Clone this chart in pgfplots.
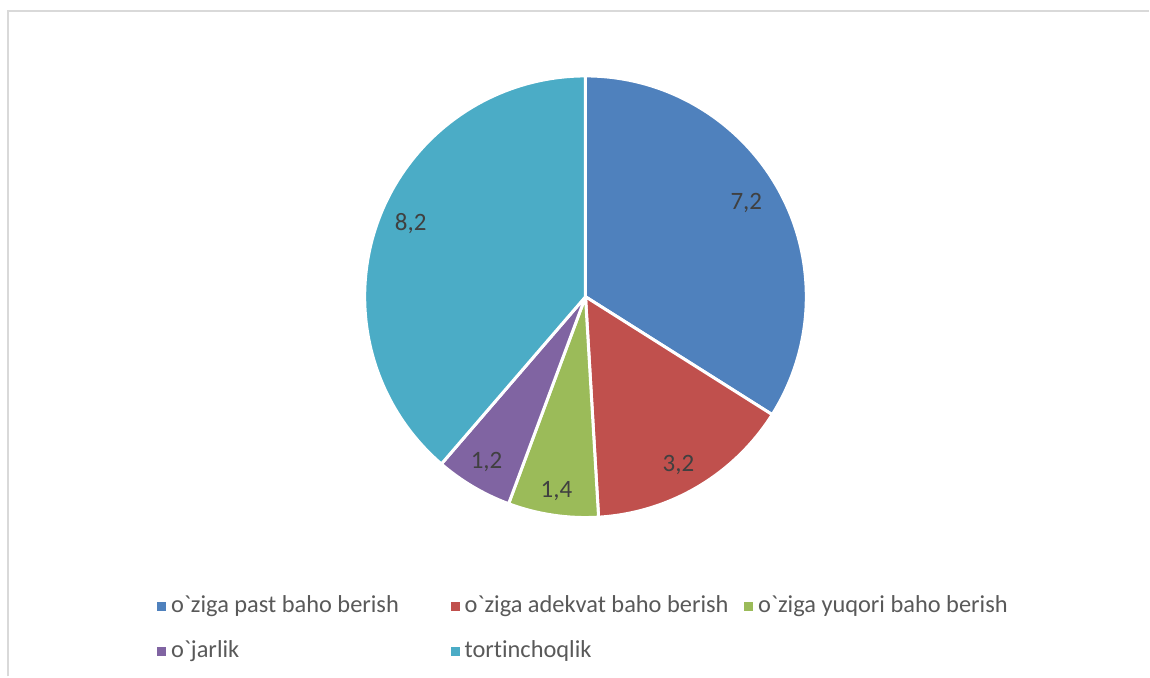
\documentclass[border=0pt]{standalone}
\usepackage{pgfplots}
\pgfplotsset{compat=1.18}
\usepackage{pgfplotstable}
\usepackage{fontspec}
\setmainfont{Carlito}[Ligatures={TeXOff,NoCommon}]

\definecolor{c0}{HTML}{4F81BD}
\definecolor{c1}{HTML}{C0504D}
\definecolor{c2}{HTML}{9BBB59}
\definecolor{c3}{HTML}{8064A2}
\definecolor{c4}{HTML}{4BACC6}
\definecolor{frame}{HTML}{D9D9D9}
\definecolor{lbl}{HTML}{404040}
\definecolor{legtext}{HTML}{595959}

\newcommand\gr{\char96\relax}
\newcommand\legcell[1]{\makebox[140pt][l]{#1}}

% values, and where each data label sits (pixels of the 1150x677 frame)
\pgfplotstableread{
val lx  ly
7.2 747 203
3.2 679 465
1.4 557 491
1.2 487 462
8.2 411 224
}\piedata

\begin{document}
\begin{tikzpicture}
% start/end angle of every slice, clockwise from 12 o'clock
\def\pietotal{0}%
\pgfplotsforeachungrouped \i in {0,...,4}{%
  \pgfplotstablegetelem{\i}{val}\of\piedata
  \pgfmathsetmacro\pietotal{\pietotal+\pgfplotsretval}%
}%
\def\piecur{90}%
\pgfplotsforeachungrouped \i in {0,...,4}{%
  \pgfplotstablegetelem{\i}{val}\of\piedata
  \pgfmathsetmacro\piespan{360*\pgfplotsretval/\pietotal}%
  \expandafter\xdef\csname sa\i\endcsname{\piecur}%
  \pgfmathsetmacro\piecur{\piecur-\piespan}%
  \expandafter\xdef\csname ea\i\endcsname{\piecur}%
}%
\begin{axis}[
  hide axis,
  scale only axis,
  width=575pt, height=338.5pt,
  xmin=0, xmax=1150, ymin=0, ymax=677,
  y dir=reverse,
  clip=false,
  /pgf/number format/assume math mode=true,
  legend columns=3,
  legend cell align=left,
  legend image code/.code={\fill[#1] (0pt,-2pt) rectangle (4pt,2pt);
    \path (0pt,0pt) (6.5pt,0pt);},
  legend style={
    at={(axis cs:157,594.5)}, anchor=north west,
    draw=none, fill=none, inner sep=0pt,
    column sep=0pt, row sep=10.5pt,
    font=\fontsize{12.2}{14}\selectfont, text=legtext,
    nodes={inner sep=0pt, text height=9pt, text depth=3pt},
  },
]
\path (axis cs:0,0) (axis cs:1150,677);
\draw[frame, line width=1pt] (axis cs:8,677) -- (axis cs:8,11) -- (axis cs:1150,11);

\pgfplotsinvokeforeach{0,...,4}{
  \fill[c#1, draw=white, line width=1.5pt, line join=round]
    (axis cs:586,297) -- ([shift={(\csname sa#1\endcsname:110.5pt)}]axis cs:586,297)
    arc[start angle=\csname sa#1\endcsname, end angle=\csname ea#1\endcsname, radius=110.5pt]
    -- cycle;
}

\addplot[draw=none, mark=none, forget plot,
  point meta=explicit,
  nodes near coords, nodes near coords align=center,
  every node near coord/.style={font=\fontsize{12.5}{14}\selectfont, text=lbl, anchor=center},
  /pgf/number format/.cd, fixed, fixed zerofill, precision=1, use comma]
  table[x=lx, y=ly, meta=val] {\piedata};

\addlegendimage{c0}\addlegendentry{\legcell{o\gr ziga past baho berish}}
\addlegendimage{c1}\addlegendentry{\legcell{o\gr ziga adekvat baho berish}}
\addlegendimage{c2}\addlegendentry{o\gr ziga yuqori baho berish}
\addlegendimage{c3}\addlegendentry{\legcell{o\gr jarlik}}
\addlegendimage{c4}\addlegendentry{tortinchoqlik}
\end{axis}
\end{tikzpicture}
\end{document}
